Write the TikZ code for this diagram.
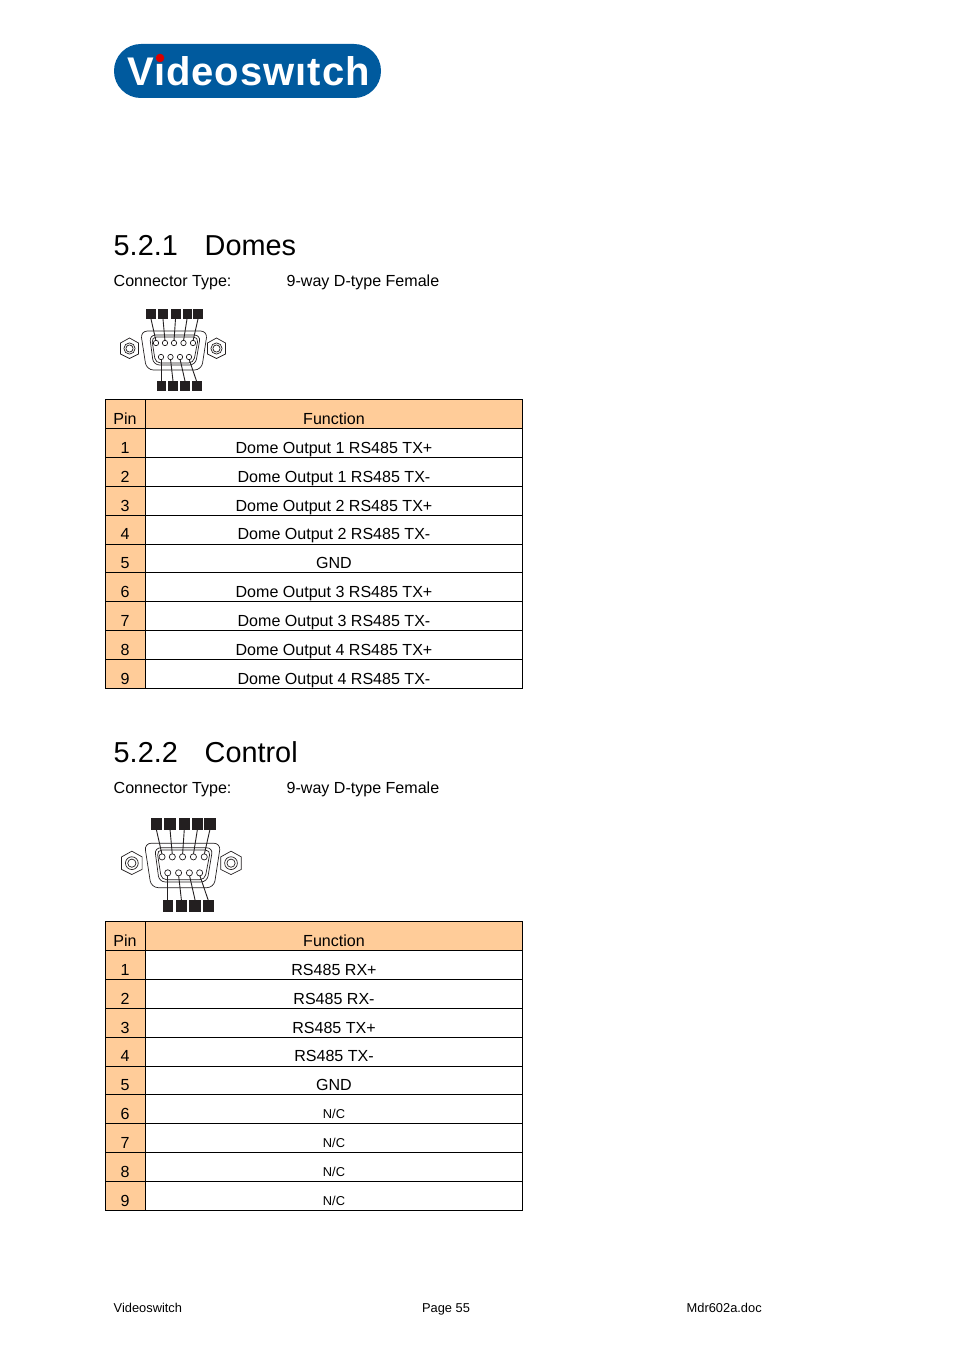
\documentclass[tikz,border=0pt]{standalone}
\usepackage{fontspec}
\setmainfont{Liberation Sans}
\usepackage{xcolor}
\definecolor{logoblue}{HTML}{005A9E}
\definecolor{headfill}{HTML}{FFCC99}
\definecolor{padblack}{HTML}{231F20}
\tikzset{
  txt/.style={anchor=base,inner sep=0pt,font=\fontsize{16.05}{19}\selectfont,text=black},
  txtl/.style={txt,anchor=base west},
  small/.style={txt,font=\fontsize{12.85}{15}\selectfont},
  smalll/.style={small,anchor=base west},
  head/.style={txtl,font=\fontsize{28.85}{34}\selectfont},
  rule/.style={draw=black,line width=1pt},
  pad/.style={fill=padblack,draw=none},
  wire/.style={draw=padblack,line width=0.9pt},
  pic line/.style={draw=padblack,line width=0.7pt},
  dtype/.pic={
    % shell
    \draw[pic line,rounded corners=7pt] (-33,-20) -- (34,-20) -- (28,19) -- (-27,19) -- cycle;
    \draw[pic line,rounded corners=6pt] (-24,-16) -- (27,-16) -- (22,14) -- (-20,14) -- cycle;
    \draw[pic line,rounded corners=5pt] (-22,-14) -- (25,-14) -- (20,12) -- (-18,12) -- cycle;
    % nuts
    \draw[pic line] (-44,-13) -- (-53,-8) -- (-53,3) -- (-44,7.5) -- (-35,3) -- (-35,-8) -- cycle;
    \draw[pic line] (-44,-2.5) circle (5.6) (-44,-2.5) circle (3.6);
    \draw[pic line] (43,-13) -- (52,-8) -- (52,3) -- (43,7.5) -- (34,3) -- (34,-8) -- cycle;
    \draw[pic line] (43,-2.5) circle (5.6) (43,-2.5) circle (3.6);
    % top row
    \fill[pad] (-27.5,-42) rectangle (-17.5,-32);
    \fill[pad] (-15.5,-42) rectangle (-5.5,-32);
    \fill[pad] (-3,-42) rectangle (7,-32);
    \fill[pad] (9,-42) rectangle (18.5,-32);
    \fill[pad] (19.5,-42) rectangle (29.5,-32);
    \draw[wire] (-22.5,-32) -- (-17.5,-10);
    \draw[wire] (-10.5,-32) -- (-8.5,-10);
    \draw[wire] (2,-32) -- (0.5,-10);
    \draw[wire] (13.5,-32) -- (10,-10);
    \draw[wire] (24.5,-32) -- (19.5,-10);
    \draw[pic line,fill=white] (-17.5,-8) circle (2.7);
    \draw[pic line,fill=white] (-8.5,-8) circle (2.7);
    \draw[pic line,fill=white] (0.5,-8) circle (2.7);
    \draw[pic line,fill=white] (10,-8) circle (2.7);
    \draw[pic line,fill=white] (19.5,-8) circle (2.7);
    % bottom row
    \fill[pad] (-17,30) rectangle (-7.5,40);
    \fill[pad] (-5.5,30) rectangle (4.5,40);
    \fill[pad] (6.5,30) rectangle (16.5,40);
    \fill[pad] (18,30) rectangle (28,40);
    \draw[wire] (-12.5,30) -- (-12.5,8);
    \draw[wire] (-0.5,30) -- (-3,8);
    \draw[wire] (11.5,30) -- (6.5,8);
    \draw[wire] (23,30) -- (15.5,8);
    \draw[pic line,fill=white] (-12.5,6) circle (2.7);
    \draw[pic line,fill=white] (-3,6) circle (2.7);
    \draw[pic line,fill=white] (6.5,6) circle (2.7);
    \draw[pic line,fill=white] (15.5,6) circle (2.7);
  }
}
\begin{document}
\begin{tikzpicture}[x=1pt,y=-1pt]
\useasboundingbox (0,0) rectangle (954,1351);

% logo
\fill[logoblue,rounded corners=26.9pt] (114,44) rectangle (381,98);
\node[anchor=base,inner sep=0pt,text=white] (logotext) at (248.5,86) {\fontsize{40}{46}\selectfont\bfseries\addfontfeature{LetterSpace=2.5}Videoswitch};
\fill[logoblue] (297,54) rectangle (306,63);
\fill[red!85!black] (160,58) circle (4.3);

% first section
\node[head] (title1) at (113.5,255) {5.2.1};
\node[head] (name1) at (204.5,255) {Domes};
\node[txtl] (type1) at (113.5,286) {Connector Type:};
\node[txtl] (way1) at (286.5,286) {9-way D-type Female};
\pic at (173.5,351) {dtype};

\fill[headfill] (105.5,399.5) rectangle (522.5,428.5);
\fill[headfill] (105.5,428.5) rectangle (145.5,688.5);
\draw[rule] (105.5,399.5) rectangle (522.5,688.5) (145.5,399.5) -- (145.5,688.5);
\draw[rule] (105.5,428.5) -- (522.5,428.5) (105.5,457.5) -- (522.5,457.5) (105.5,486.5) -- (522.5,486.5)
  (105.5,515.5) -- (522.5,515.5) (105.5,544.5) -- (522.5,544.5) (105.5,572.5) -- (522.5,572.5)
  (105.5,601.5) -- (522.5,601.5) (105.5,630.5) -- (522.5,630.5) (105.5,659.5) -- (522.5,659.5);
\node[txt] (pinhead1) at (125,424) {Pin};
\node[txt] (funchead1) at (334,424) {Function};
\node[txt] (pina1) at (125,453) {1};
\node[txt] (funca1) at (334,453) {Dome Output 1 RS485 TX+};
\node[txt] (pina2) at (125,482) {2};
\node[txt] (funca2) at (334,482) {Dome Output 1 RS485 TX-};
\node[txt] (pina3) at (125,511) {3};
\node[txt] (funca3) at (334,511) {Dome Output 2 RS485 TX+};
\node[txt] (pina4) at (125,539) {4};
\node[txt] (funca4) at (334,539) {Dome Output 2 RS485 TX-};
\node[txt] (pina5) at (125,568) {5};
\node[txt] (funca5) at (334,568) {GND};
\node[txt] (pina6) at (125,597) {6};
\node[txt] (funca6) at (334,597) {Dome Output 3 RS485 TX+};
\node[txt] (pina7) at (125,626) {7};
\node[txt] (funca7) at (334,626) {Dome Output 3 RS485 TX-};
\node[txt] (pina8) at (125,655) {8};
\node[txt] (funca8) at (334,655) {Dome Output 4 RS485 TX+};
\node[txt] (pina9) at (125,684) {9};
\node[txt] (funca9) at (334,684) {Dome Output 4 RS485 TX-};

% second section
\node[head] (title2) at (113.5,762) {5.2.2};
\node[head] (name2) at (204.5,762) {Control};
\node[txtl] (type2) at (113.5,793) {Connector Type:};
\node[txtl] (way2) at (286.5,793) {9-way D-type Female};
\pic[scale=1.14] at (182,866) {dtype};

\fill[headfill] (105.5,921.5) rectangle (522.5,950.5);
\fill[headfill] (105.5,950.5) rectangle (145.5,1210.5);
\draw[rule] (105.5,921.5) rectangle (522.5,1210.5) (145.5,921.5) -- (145.5,1210.5);
\draw[rule] (105.5,950.5) -- (522.5,950.5) (105.5,979.5) -- (522.5,979.5) (105.5,1008.5) -- (522.5,1008.5)
  (105.5,1037.5) -- (522.5,1037.5) (105.5,1066.5) -- (522.5,1066.5) (105.5,1094.5) -- (522.5,1094.5)
  (105.5,1123.5) -- (522.5,1123.5) (105.5,1152.5) -- (522.5,1152.5) (105.5,1181.5) -- (522.5,1181.5);
\node[txt] (pinhead2) at (125,946) {Pin};
\node[txt] (funchead2) at (334,946) {Function};
\node[txt] (pinb1) at (125,975) {1};
\node[txt] (funcb1) at (334,975) {RS485 RX+};
\node[txt] (pinb2) at (125,1004) {2};
\node[txt] (funcb2) at (334,1004) {RS485 RX-};
\node[txt] (pinb3) at (125,1033) {3};
\node[txt] (funcb3) at (334,1033) {RS485 TX+};
\node[txt] (pinb4) at (125,1061) {4};
\node[txt] (funcb4) at (334,1061) {RS485 TX-};
\node[txt] (pinb5) at (125,1090) {5};
\node[txt] (funcb5) at (334,1090) {GND};
\node[txt] (pinb6) at (125,1119) {6};
\node[small] (funcb6) at (334,1118) {N/C};
\node[txt] (pinb7) at (125,1148) {7};
\node[small] (funcb7) at (334,1147) {N/C};
\node[txt] (pinb8) at (125,1177) {8};
\node[small] (funcb8) at (334,1176) {N/C};
\node[txt] (pinb9) at (125,1206) {9};
\node[small] (funcb9) at (334,1205) {N/C};

% footer
\node[smalll] (footleft) at (113.5,1312) {Videoswitch};
\node[small] (footmid) at (446,1312) {Page 55};
\node[smalll] (footright) at (686.5,1312) {Mdr602a.doc};
\end{tikzpicture}
\end{document}
